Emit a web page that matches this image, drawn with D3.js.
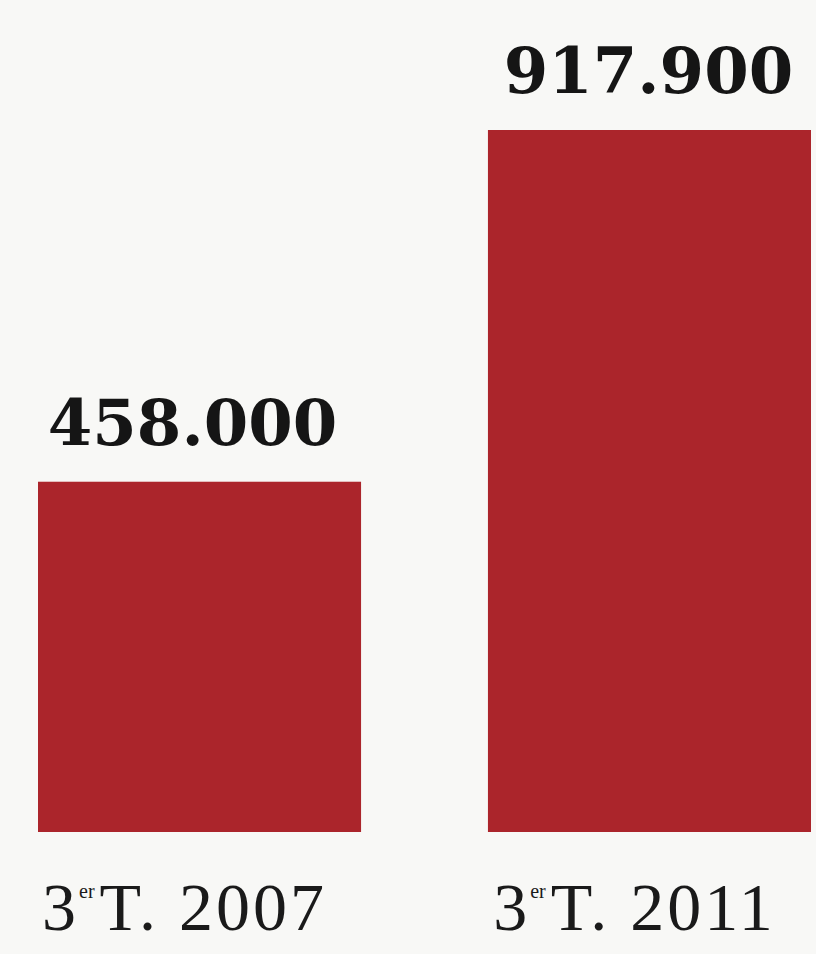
<!DOCTYPE html>
<html>
<head>
<meta charset="utf-8">
<script src="https://cdn.jsdelivr.net/npm/d3@7"></script>
<style>
  html, body { margin: 0; padding: 0; background: #f8f8f6; }
  svg { display: block; }
</style>
</head>
<body>
<div id="pic"></div>
<script>
// data
var categories = ["2007", "2011"];
var values = [458000, 917900];
var valueLabels = ["458.000", "917.900"];

var width = 816, height = 954;

var svg = d3.select("#pic").append("svg")
    .attr("width", width)
    .attr("height", height);

svg.append("rect")
    .attr("width", width)
    .attr("height", height)
    .attr("fill", "#f8f8f6");

// x: two bands, y: linear from zero
var x = d3.scaleBand()
    .domain(categories)
    .range([38, 811])
    .paddingInner(0.282)
    .paddingOuter(0);

var y = d3.scaleLinear()
    .domain([0, d3.max(values)])
    .range([832, 130]);

var data = categories.map(function(c, i) {
    return { cat: c, value: values[i], label: valueLabels[i] };
});

svg.selectAll(".bar")
    .data(data)
    .enter().append("rect")
    .attr("class", "bar")
    .attr("x", function(d) { return x(d.cat); })
    .attr("y", function(d) { return y(d.value); })
    .attr("width", x.bandwidth())
    .attr("height", function(d) { return y(0) - y(d.value); })
    .attr("fill", "#ab252b");

// value labels above each bar
svg.selectAll(".value")
    .data(data)
    .enter().append("text")
    .attr("class", "value")
    .attr("x", function(d, i) { return x(d.cat) + x.bandwidth() / 2 + (i == 0 ? -7 : -1); })
    .attr("y", function(d) { return y(d.value) - 37; })
    .attr("text-anchor", "middle")
    .attr("font-family", "DejaVu Serif")
    .attr("font-weight", "bold")
    .attr("font-size", 64)
    .attr("fill", "#151515")
    .text(function(d) { return d.label; });

// category labels: 3er T. yyyy
var cat = svg.selectAll(".cat")
    .data(data)
    .enter().append("text")
    .attr("class", "cat")
    .attr("x", function(d) { return x(d.cat) + x.bandwidth() / 2 - 15; })
    .attr("y", 930)
    .attr("text-anchor", "middle")
    .attr("font-family", "Liberation Serif")
    .attr("font-size", 68)
    .attr("letter-spacing", 3)
    .attr("fill", "#1a1a1a");

cat.append("tspan").text("3");
cat.append("tspan")
    .attr("font-size", 20)
    .attr("letter-spacing", 0)
    .attr("dy", -32)
    .attr("dx", 0)
    .text("er");
cat.append("tspan")
    .attr("dy", 32)
    .attr("dx", 5)
    .text(function(d) { return "T. " + d.cat; });
</script>
</body>
</html>
